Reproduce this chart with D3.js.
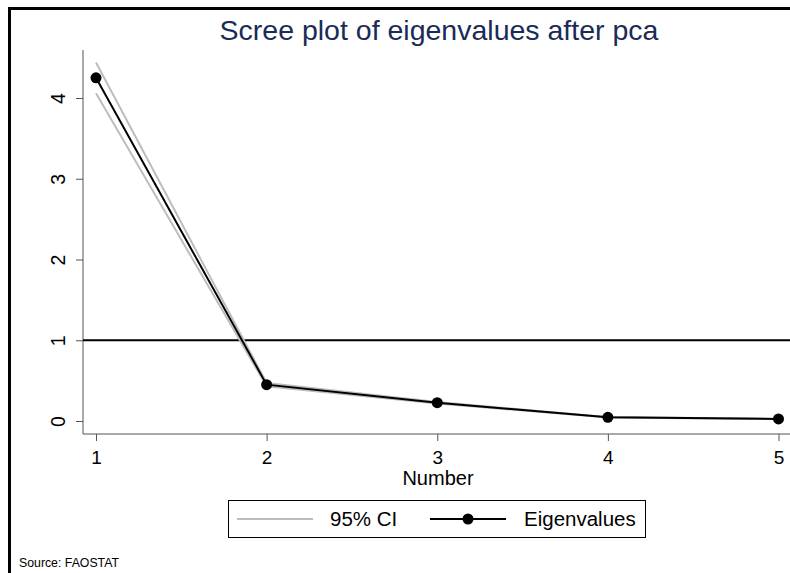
<!DOCTYPE html>
<html>
<head>
<meta charset="utf-8">
<script src="https://cdn.jsdelivr.net/npm/d3@7"></script>
<style>
  body { margin: 0; background: #fff; }
  svg { font-family: "Liberation Sans", Arial, sans-serif; }
</style>
</head>
<body>
<div id="chart"></div>
<script>
const numbers = [1, 2, 3, 4, 5];
const eigenvalues = [4.25, 0.45, 0.227, 0.046, 0.025];
const ciLower = [4.06, 0.43, 0.218, 0.044, 0.024];
const ciUpper = [4.44, 0.47, 0.236, 0.048, 0.026];
const xTicks = [1, 2, 3, 4, 5];
const yTicks = [0, 1, 2, 3, 4];
const refLine = 1;

const W = 790, H = 573;
const margin = { top: 50, right: 0, bottom: 139, left: 83 };
const width = W - margin.left - margin.right,
      height = H - margin.top - margin.bottom;

const svg = d3.select("#chart")
    .append("svg")
    .attr("width", W)
    .attr("height", H);

// outer frame (only top and left edges show)
svg.append("rect")
    .attr("x", 9.5).attr("y", 8.5)
    .attr("width", 800).attr("height", 600)
    .attr("fill", "none")
    .attr("stroke", "#000")
    .attr("stroke-width", 3);

const g = svg.append("g")
    .attr("transform", `translate(${margin.left},${margin.top})`);

const xScale = d3.scaleLinear()
    .domain([1, 5])
    .range([13, 695.5]);

const yScale = d3.scaleLinear()
    .domain([0, 4])
    .range([371, 48]);

// axes
const yAxis = g.append("g")
    .call(d3.axisLeft(yScale).tickValues(yTicks).tickFormat(d3.format("d"))
        .tickSize(7).tickPadding(5).tickSizeOuter(0));
yAxis.select(".domain").attr("d", `M0,0V${height}`);
yAxis.selectAll("line, .domain").attr("stroke", "#555");
yAxis.selectAll("text")
    .attr("font-size", 19.5)
    .attr("fill", "#000")
    .attr("transform", "rotate(-90)")
    .attr("x", 0)
    .attr("y", -25)
    .attr("dy", "0.35em")
    .attr("text-anchor", "middle");

const xAxis = g.append("g")
    .attr("transform", `translate(0,${height})`)
    .call(d3.axisBottom(xScale).tickValues(xTicks).tickFormat(d3.format("d"))
        .tickSize(7).tickPadding(10).tickSizeOuter(0));
xAxis.select(".domain").attr("d", `M0,0H${width}`);
xAxis.selectAll("line, .domain").attr("stroke", "#555");
xAxis.selectAll("text")
    .attr("font-size", 19)
    .attr("fill", "#000");

// reference line at 1
g.append("line")
    .attr("x1", 0).attr("x2", width)
    .attr("y1", yScale(refLine)).attr("y2", yScale(refLine))
    .attr("stroke", "#000")
    .attr("stroke-width", 2);

const line = d3.line()
    .x((d, i) => xScale(numbers[i]))
    .y(d => yScale(d));

[ciLower, ciUpper].forEach(arr => {
    g.append("path")
        .datum(arr)
        .attr("d", line)
        .attr("fill", "none")
        .attr("stroke", "#bdbdbd")
        .attr("stroke-width", 2);
});

g.append("path")
    .datum(eigenvalues)
    .attr("d", line)
    .attr("fill", "none")
    .attr("stroke", "#000")
    .attr("stroke-width", 2);

g.selectAll("circle.pt")
    .data(eigenvalues)
    .enter()
    .append("circle")
    .attr("class", "pt")
    .attr("cx", (d, i) => xScale(numbers[i]))
    .attr("cy", d => yScale(d))
    .attr("r", 5.5)
    .attr("fill", "#000");

// title
svg.append("text")
    .attr("x", 439)
    .attr("y", 40)
    .attr("text-anchor", "middle")
    .attr("font-size", 28.5)
    .attr("fill", "#1a2b57")
    .text("Scree plot of eigenvalues after pca");

// x axis title
svg.append("text")
    .attr("x", 438)
    .attr("y", 485)
    .attr("text-anchor", "middle")
    .attr("font-size", 20)
    .text("Number");

// legend
const legend = svg.append("g");
legend.append("rect")
    .attr("x", 228.5).attr("y", 500.5)
    .attr("width", 417).attr("height", 37)
    .attr("fill", "#fff")
    .attr("stroke", "#000")
    .attr("stroke-width", 1);
legend.append("line")
    .attr("x1", 237).attr("x2", 313)
    .attr("y1", 519).attr("y2", 519)
    .attr("stroke", "#bdbdbd").attr("stroke-width", 2);
legend.append("text")
    .attr("x", 330).attr("y", 526)
    .attr("font-size", 20.5)
    .text("95% CI");
legend.append("line")
    .attr("x1", 430).attr("x2", 506)
    .attr("y1", 519).attr("y2", 519)
    .attr("stroke", "#000").attr("stroke-width", 2);
legend.append("circle")
    .attr("cx", 468).attr("cy", 519)
    .attr("r", 5.5).attr("fill", "#000");
legend.append("text")
    .attr("x", 524).attr("y", 526)
    .attr("font-size", 20.5)
    .text("Eigenvalues");

// note
svg.append("text")
    .attr("x", 19)
    .attr("y", 567)
    .attr("font-size", 12.3)
    .text("Source: FAOSTAT");
</script>
</body>
</html>
